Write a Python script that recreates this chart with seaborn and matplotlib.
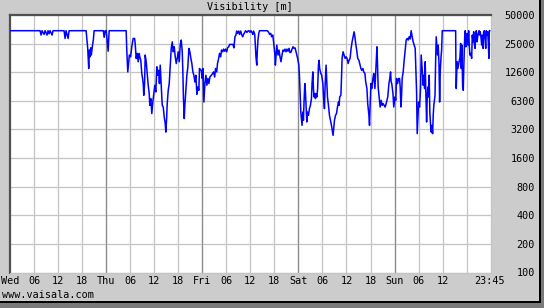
import matplotlib
matplotlib.use("Agg")
import matplotlib.pyplot as plt
from matplotlib.patches import Rectangle
import matplotlib.transforms as mtransforms
import seaborn as sns
import pandas as pd

# ---- data (hours since Wed 00:00, visibility in m) ----
hours = [
    0, 7.5, 7.75, 8.0, 8.5, 8.75, 9.25, 9.5, 9.75, 10.0, 10.5, 10.75,
    13.5, 13.75, 14.0, 14.5, 14.75, 19.0,
    19.4, 19.65, 19.8, 20.0, 20.15, 20.3, 20.6, 20.8, 21.0,
    23.3, 23.5, 23.75, 24.0, 24.25, 24.5, 24.75, 29.0,
    29.15, 29.4, 29.65, 29.8, 30.1, 30.4, 30.75, 31.1, 31.25, 31.5, 31.75, 32.0,
    32.25, 32.4, 32.65, 32.9, 33.1, 33.25, 33.4, 33.6, 33.75, 34.0, 34.25, 34.5,
    34.75, 34.9, 35.15, 35.4, 35.65, 35.9, 36.15, 36.4, 36.65, 36.9, 37.1, 37.3,
    37.5, 37.75, 38.0, 38.25, 38.5, 38.75, 38.9, 39.1, 39.25, 39.5, 39.75, 40.0,
    40.25, 40.5, 40.75, 41.0, 41.25, 41.5, 41.75, 42.0, 42.25, 42.5, 42.75, 43.0,
    43.15, 43.3, 43.5, 43.65, 43.9, 44.15, 44.4, 44.65, 44.9, 45.15, 45.4, 45.65,
    45.9, 46.15, 46.4, 46.65, 46.9, 47.15, 47.3, 47.75, 48.0, 48.15, 48.3, 48.4,
    48.65, 48.9, 49.15, 49.4, 49.65, 49.9, 50.25, 50.6, 50.8, 51.1, 51.3, 51.6,
    51.8, 52.1, 52.3, 52.6, 52.8, 53.1, 53.3, 53.6, 53.8, 54.1, 54.3, 54.6,
    54.8, 55.25, 55.65, 55.9, 56.15, 56.4, 56.6, 56.8, 57.1, 57.3, 57.6, 57.8,
    58.1, 58.3, 58.6, 58.8, 59.15, 59.4, 59.65, 59.9, 60.15, 60.4, 60.65, 60.8,
    61.1, 61.25, 61.4, 61.6, 61.75, 61.9, 62.1, 62.3, 64.25, 64.6, 64.8, 65.1,
    65.3, 65.6, 65.8, 66.1, 66.25, 66.4, 66.6, 66.75, 66.9, 67.15, 67.4, 67.65,
    67.9, 68.15, 68.4, 68.65, 68.9, 69.15, 69.4, 69.65, 69.9, 70.15, 70.4, 70.65,
    70.9, 71.15, 71.3, 71.6, 71.8, 72.1, 72.25, 72.4, 72.6, 72.75, 72.9, 73.1,
    73.25, 73.4, 73.6, 73.75, 73.9, 74.1, 74.25, 74.5, 74.75, 75.0, 75.25, 75.4,
    75.6, 75.75, 75.9, 76.1, 76.25, 76.4, 76.6, 76.8, 77.0, 77.15, 77.3, 77.6,
    77.8, 78.1, 78.3, 78.5, 78.65, 78.9, 79.1, 79.25, 79.5, 79.75, 80.0, 80.25,
    80.5, 80.65, 80.8, 81.0, 81.25, 81.5, 81.75, 82.0, 82.15, 82.3, 82.6, 82.75,
    82.9, 83.15, 83.4, 83.65, 83.9, 84.15, 84.4, 84.65, 84.9, 85.15, 85.4, 85.65,
    85.9, 86.1, 86.3, 86.6, 86.8, 87.1, 87.3, 87.6, 87.8, 88.1, 88.3, 88.6,
    88.8, 89.1, 89.3, 89.6, 89.75, 89.9, 90.1, 90.3, 90.6, 90.8, 91.1, 91.3,
    91.6, 91.75, 91.9, 92.15, 92.4, 92.65, 92.9, 93.15, 93.4, 93.65, 93.9, 94.1,
    94.3, 94.6, 94.8, 95.0, 95.15, 95.3, 95.6, 95.8, 96.1, 96.3, 96.5, 96.75,
    97.0, 97.25, 97.4, 97.6, 97.75, 97.9, 98.15, 98.4, 98.65, 98.9, 99.15, 99.4,
    99.65, 99.9, 100.15, 100.4, 100.65, 100.9, 101.15, 101.3, 101.5, 101.65, 101.8, 102.0,
    102.25, 102.5, 102.65, 102.8, 103.0, 103.15, 103.3, 103.5, 103.65, 103.8, 104.0, 104.15,
    104.3, 104.5, 104.65, 104.8, 105.0, 105.15, 105.3, 105.5, 105.65, 105.8, 106.1, 106.25,
    106.4, 106.6, 106.75, 106.9, 107.1, 107.25, 107.4, 107.6, 107.75, 107.9, 111.25, 111.3,
    111.4, 111.6, 111.8, 112.1, 112.3, 112.5, 112.65, 112.8, 113.0, 113.15, 113.3, 113.5,
    113.65, 113.8, 114.0, 114.15, 114.3, 114.5, 114.65, 114.8, 115.0, 115.25, 115.4, 115.6,
    115.75, 115.9, 116.1, 116.25, 116.4, 116.6, 116.75, 116.9, 117.1, 117.25, 117.4, 117.6,
    117.75, 117.9, 118.1, 118.25, 118.4, 118.6, 118.75, 118.9, 119.1, 119.25, 119.4, 119.55,
    119.65, 119.75,
]
visibility = [
    35000, 35000, 31500, 35000, 32000, 35000, 31500, 35000, 32500, 35000, 31500, 35000,
    35000, 29000, 35000, 29000, 35000, 35000,
    22800, 14000, 21900, 18600, 23100, 19400, 24700, 27900, 35000,
    35000, 29800, 35000, 35000, 27900, 21300, 35000, 35000,
    21900, 12900, 16500, 19400, 18600, 23700, 29000, 29000, 25700, 17900, 20200, 16500,
    20200, 18600, 17100, 12400, 11000, 9730, 7320, 9730, 19400, 16500, 12400, 9340,
    7630, 5740, 6760, 4700, 6220, 7630, 9340, 7940, 14600, 11900, 13400, 9730,
    15200, 9340, 5740, 5510, 4320, 3680, 3000, 4160, 5990, 8270, 9730, 14600,
    22800, 26700, 21000, 23700, 18600, 15800, 17900, 21000, 16500, 25100, 27900, 21000,
    12900, 6760, 4160, 5740, 8270, 11900, 14600, 22800, 21000, 17900, 15800, 12900,
    11900, 10100, 11900, 7500, 8960, 8270, 14000, 13400, 11000, 14000, 8270, 6220,
    9730, 11900, 9340, 11000, 9730, 11400, 11900, 12400, 12900, 11400, 14000, 12900,
    15800, 17900, 20200, 18600, 21900, 21000, 22400, 21300, 22400, 21000, 23100, 23700,
    25100, 25100, 25100, 23100, 30200, 31500, 34700, 32800, 34700, 32000, 34700, 32000,
    30200, 32000, 33600, 35000, 33600, 34700, 35000, 33600, 35000, 33600, 32000, 34700,
    32000, 24700, 18600, 15200, 21900, 27900, 32800, 35000, 35000, 33600, 32000, 32800,
    30200, 31500, 26700, 20200, 15200, 18600, 24700, 21900, 19400, 21900, 18600, 16500,
    19400, 21900, 21300, 22400, 21000, 22400, 21300, 22800, 20600, 20800, 22400, 23700,
    22800, 23100, 21900, 19400, 17900, 15200, 11900, 7940, 4880, 4160, 3530, 4880,
    3990, 6220, 9730, 7940, 5740, 3830, 4880, 4500, 5300, 5740, 6760, 9730,
    12900, 8620, 7030, 7630, 6760, 7630, 7030, 8620, 15200, 17100, 14000, 12400,
    11900, 9730, 6760, 5300, 8960, 15200, 9730, 7030, 5740, 4500, 3990, 3530,
    3000, 2770, 3260, 3990, 4500, 4700, 5510, 6220, 5740, 7030, 7320, 11000,
    17900, 21000, 19400, 17900, 18600, 17900, 15800, 17100, 17900, 22800, 26700, 30200,
    34100, 30200, 25700, 21000, 17900, 17100, 15800, 14000, 13400, 14000, 12900, 12400,
    10100, 8620, 5990, 4500, 3530, 5740, 9730, 8620, 11000, 12400, 8620, 12900,
    23700, 15200, 8960, 7030, 5510, 6480, 5740, 5990, 5740, 5500, 5990, 6480,
    7030, 9730, 11000, 12900, 10100, 9730, 7630, 5510, 7030, 6480, 11000, 9730,
    11000, 11000, 8960, 5510, 7320, 11000, 12900, 17100, 21900, 27900, 29000, 27900,
    30200, 28600, 35000, 30200, 26700, 24700, 22800, 14000, 7940, 2890, 3990, 6220,
    5510, 8960, 19400, 15800, 11900, 9340, 11900, 8620, 16500, 7940, 3830, 7030,
    8960, 7030, 11900, 4880, 3530, 3000, 3530, 2890, 4500, 5740, 7320, 16500,
    30200, 23700, 19400, 24700, 15200, 6220, 12900, 18600, 21900, 35000, 35000, 17900,
    8620, 16500, 14000, 16500, 17900, 25700, 14000, 24700, 8960, 8270, 15200, 29000,
    35000, 23700, 30200, 32800, 24700, 35000, 24700, 19400, 20200, 17900, 31500, 26700,
    34100, 25700, 22800, 31500, 35000, 26700, 30200, 32800, 35000, 31500, 34100, 29000,
    24700, 31500, 22800, 34100, 35000, 29000, 22800, 35000, 31500, 34100, 26700, 17900,
    35000, 35000,
]

x_tick_pos = [0, 6, 12, 18, 24, 30, 36, 42, 48, 54, 60, 66, 72, 78, 84, 90, 96, 102, 108, 119.75]
x_tick_labels = ["Wed", "06", "12", "18", "Thu", "06", "12", "18", "Fri", "06", "12", "18",
                 "Sat", "06", "12", "18", "Sun", "06", "12", "23:45"]
x_grid_pos = [6, 12, 18, 24, 30, 36, 42, 48, 54, 60, 66, 72, 78, 84, 90, 96, 102, 108, 114]
day_pos = [24, 48, 72, 96]
y_tick_pos = [100, 200, 400, 800, 1600, 3200, 6400, 12800, 25600, 51200]
y_tick_labels = ["100", "200", "400", "800", "1600", "3200", "6300", "12600", "25000", "50000"]

title = "Visibility [m]"
credit = "www.vaisala.com"

# ---- figure ----
W, H, DPI = 544, 308, 100
fig = plt.figure(figsize=(W / DPI, H / DPI), dpi=DPI, facecolor="#cccccc")
plt.rcParams["font.family"] = ["DejaVu Sans Mono"]
FS = 7.3

ax_l, ax_r, ax_t, ax_b = 10, 490.7, 15, 272.5
ax = fig.add_axes([ax_l / W, (H - ax_b) / H, (ax_r - ax_l) / W, (ax_b - ax_t) / H])
ax.set_facecolor("white")

df = pd.DataFrame({"hours": hours, "visibility": visibility})
ax.set_yscale("log", base=2)
sns.lineplot(data=df, x="hours", y="visibility", ax=ax, estimator=None, sort=False,
             color="#0000ff", linewidth=1.1, zorder=5)

ax.set_xlim(0, 120)
ax.set_ylim(100, 51200)

# grid
for xp in x_grid_pos:
    ax.axvline(xp, color="#c4c4c4", lw=0.9, zorder=1)
for xp in day_pos:
    ax.axvline(xp, color="#8c8c8c", lw=0.9, zorder=2)
for yp in y_tick_pos:
    ax.axhline(yp, color="#c4c4c4", lw=0.9, zorder=1)

ax.set_xticks(x_tick_pos)
ax.set_xticklabels(x_tick_labels)
ax.set_yticks(y_tick_pos)
ax.set_yticklabels(y_tick_labels)
ax.minorticks_off()
ax.yaxis.tick_right()
ax.tick_params(axis="x", length=0, pad=2.2, labelsize=FS, colors="black")
ax.tick_params(axis="y", length=0, pad=(535 - ax_r) * 72 / DPI, labelsize=FS, colors="black")
for lab in ax.get_yticklabels():
    lab.set_horizontalalignment("right")
ax.set_xlabel("")
ax.set_ylabel("")

for side in ["left", "top"]:
    ax.spines[side].set_color("#505050")
    ax.spines[side].set_linewidth(1.6)
for side in ["right", "bottom"]:
    ax.spines[side].set_color("#c4c4c4")
    ax.spines[side].set_linewidth(0.9)

fig.text((ax_l + ax_r) / 2 / W, 1 - 7 / H, title, ha="center", va="center", fontsize=FS)
fig.text(2 / W, 1 - 294.5 / H, credit, ha="left", va="center", fontsize=FS)

# outer frame shadow (right and bottom)
fig.patches.append(Rectangle((539 / W, 0), 5 / W, 1, transform=fig.transFigure,
                             facecolor="#7a7a7a", edgecolor="none", zorder=0))
fig.patches.append(Rectangle((0, 0), 1, 6.5 / H, transform=fig.transFigure,
                             facecolor="#7a7a7a", edgecolor="none", zorder=0))
fig.patches.append(Rectangle((539 / W, 6.5 / H), 1.5 / W, 1 - 6.5 / H, transform=fig.transFigure,
                             facecolor="#000000", edgecolor="none", zorder=1))
fig.patches.append(Rectangle((0, 5.5 / H), 540.5 / W, 1.5 / H, transform=fig.transFigure,
                             facecolor="#000000", edgecolor="none", zorder=1))

fig.savefig("out.png", dpi=DPI, facecolor=fig.get_facecolor())
